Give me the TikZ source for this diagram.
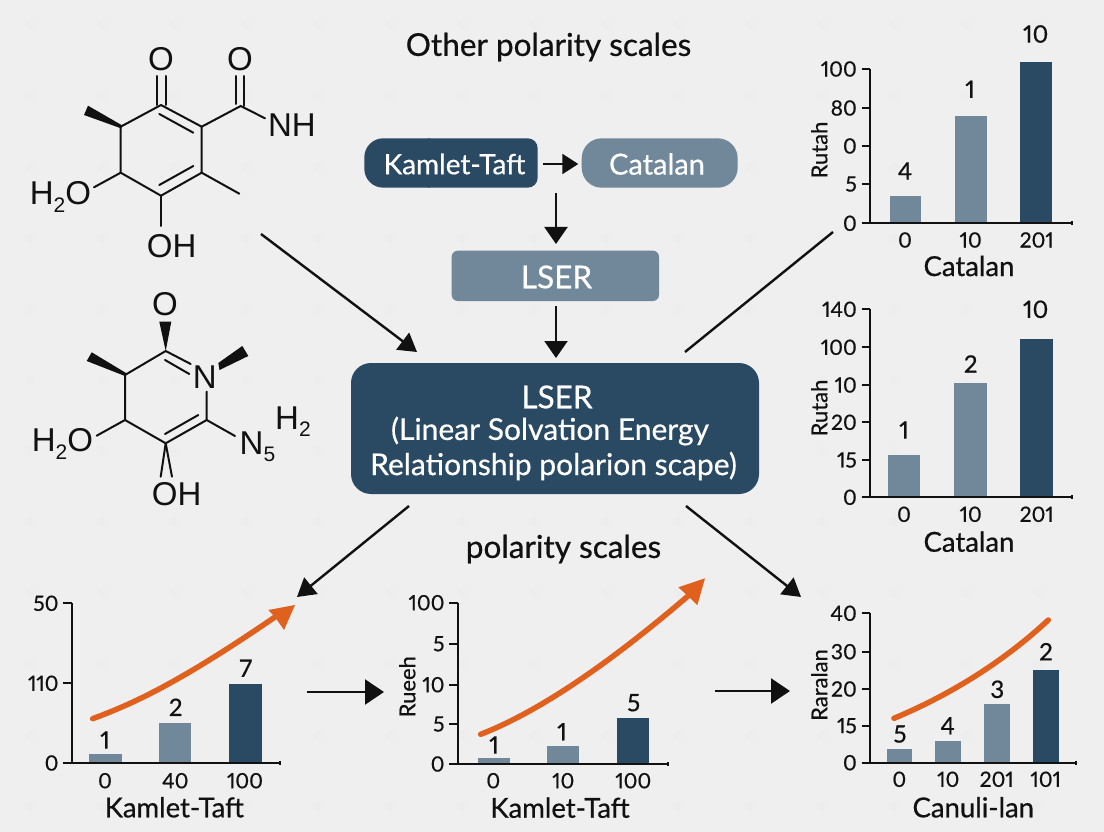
\documentclass[tikz,border=0pt]{standalone}
\usepackage{fontspec}
\setmainfont{Lato}[Numbers=Proportional,RawFeature={embolden=0.6}]
\newfontfamily\molfont{Liberation Sans}
\usetikzlibrary{arrows.meta}
\definecolor{bgc}{HTML}{EFEFEF}
\definecolor{speck}{HTML}{EDEDED}
\definecolor{darkb}{HTML}{2A4A64}
\definecolor{midb}{HTML}{70889A}
\definecolor{orangec}{HTML}{E0601E}
\definecolor{ink}{HTML}{111111}
\newcommand\fs[1]{\fontsize{#1}{#1}\selectfont}
\newcommand\sbs[1]{\raisebox{-0.22em}{\fontsize{21}{21}\selectfont #1}}
\tikzset{
 x=1pt,y=-1pt,
 bond/.style={line width=2pt,draw=ink,line cap=round},
 wedge/.style={fill=ink,draw=none},
 atom/.style={font=\molfont\fs{33},text=ink,inner sep=0pt},
 flow/.style={line width=2.4pt,draw=ink,-{Triangle[length=18pt,width=21pt]}},
 flowplain/.style={line width=2.4pt,draw=ink},
 axisl/.style={line width=1.7pt,draw=ink},
 tick/.style={font=\fs{21},text=ink,inner sep=0pt},
 vallab/.style={font=\fs{24},text=ink,inner sep=0pt},
 xtitle/.style={font=\fs{27.5},text=ink,inner sep=0pt},
 ytitle/.style={font=\fs{22},text=ink,inner sep=0pt,rotate=90},
 headline/.style={font=\fs{31.5},text=ink,inner sep=0pt},
 boxtext/.style={font=\fs{28},text=white,inner sep=0pt,align=center},
 trend/.style={line width=5.5pt,draw=orangec,line cap=round},
}
\newcommand\chartaxes[6]{%
 \draw[axisl] (#2,#3) -- (#2,#4);
 \draw[axisl] (#5,#4) -- (#6,#4);
 \draw[axisl] (#6,#4-2) -- (#6,#4+2);
}
\newcommand\charticks[3]{%
 \foreach \yy/\lab [count=\i] in {#3} {
  \draw[axisl] (#2-8.3,\yy) -- (#2,\yy);
  \node[tick,anchor=east] (#1y\i) at (#2-13,\yy) {\lab};
 }}
\newcommand\chartbars[3]{%
 \foreach \xa/\xb/\tp/\col/\val/\vx/\vy/\xl/\xlx/\xly [count=\i] in {#3} {
  \fill[\col] (\xa,\tp) rectangle (\xb,#2);
  \node[vallab] (#1v\i) at (\vx,\vy) {\val};
  \node[tick] (#1x\i) at (\xlx,\xly) {\xl};
 }}
\begin{document}
\begin{tikzpicture}
\useasboundingbox (0,0) rectangle (1104,832);
\fill[bgc] (0,0) rectangle (1104,832);
\foreach \sx in {30,102,...,1100} \foreach \sy in {25,96,...,830}
  \fill[speck] (\sx,\sy) circle (5);

% ---------- molecule 1
\coordinate (a1) at (161,105);
\coordinate (a2) at (201.7,126.7);
\coordinate (a3) at (201.7,172.7);
\coordinate (a4) at (161,195.7);
\coordinate (a5) at (120.7,172.7);
\coordinate (a6) at (120.7,126.7);
\draw[bond,line join=round] (a1) -- (a2) -- (a3) -- (a4) -- (a5) -- (a6) -- cycle;
\draw[bond] (159.3,114) -- (193.3,132.7);
\draw[bond] (159.3,185) -- (193.3,166);
\draw[bond] (156.7,105) -- (156.7,76);
\draw[bond] (165.7,105) -- (165.7,76);
\draw[bond] (a2) -- (240.7,106) -- (265,118.3);
\draw[bond] (235.7,104) -- (235.7,76);
\draw[bond] (244.3,106) -- (244.3,76);
\draw[bond] (a3) -- (239.3,193.7);
\draw[bond] (a4) -- (161,226);
\draw[bond] (a5) -- (94,187.3);
\fill[wedge] (121.5,128.5) -- (84,115) -- (88,105.7) -- (121.5,125) -- cycle;
\node[atom] (o1) at (161,59.5) {O};
\node[atom] (o2) at (240,59.5) {O};
\node[atom] (nh) at (292,125) {NH};
\node[atom] (oh1) at (171.7,246) {OH};
\node[atom] (h2o1) at (60.5,197) {H\sbs{2}O};

% ---------- molecule 2
\coordinate (b1) at (165.7,351);
\coordinate (b2) at (206.7,420);
\coordinate (b3) at (165.7,443.3);
\coordinate (b4) at (125,420);
\coordinate (b5) at (125,375);
\draw[bond,line join=round] (190.7,364) -- (b1) -- (b5) -- (b4) -- (b3) -- (b2) -- (206.7,391.7);
\draw[bond] (165,360) -- (189.3,374);
\draw[bond] (198.3,415) -- (165,434);
\draw[bond] (b2) -- (235,436);
\draw[bond] (b4) -- (96.7,435.7);
\draw[bond] (b3) -- (160.7,476.7);
\draw[bond] (b3) -- (172,476.7);
\fill[wedge] (165.7,351) -- (159.3,321.7) -- (171.3,321.7) -- cycle;
\fill[wedge] (125,376) -- (86.7,361) -- (91.7,352.3) -- (126,373) -- cycle;
\fill[wedge] (218.3,363) -- (242.3,346) -- (248.3,356) -- (219.5,370) -- cycle;
\node[atom] (o3) at (165,304.5) {O};
\node[atom] (n1) at (204.7,377) {N};
\node[atom,anchor=west] (n5) at (239.5,447) {N\sbs{5}};
\node[atom] (h2) at (293,422) {H\sbs{2}};
\node[atom] (oh2) at (176.7,494) {OH};
\node[atom] (h2o2) at (62.5,444) {H\sbs{2}O};

% ---------- headings
\node[headline] (t1) at (548.5,47) {Other polarity scales};
\node[headline] (t2) at (563.5,549) {polarity scales};

% ---------- boxes
\fill[darkb,rounded corners=19pt] (430,138.3) -- (364.3,138.3) -- (364.3,187.7) -- (430,187.7);
\fill[darkb,rounded corners=10pt] (420,138.3) -- (537.7,138.3) -- (537.7,187.7) -- (420,187.7) -- cycle;
\node[boxtext] (kt) at (454.5,164) {Kamlet-Taft};
\fill[midb,rounded corners=20pt] (581.7,138.3) rectangle (737.7,187.7);
\node[boxtext,font=\fs{29}] (cat) at (657,164) {Catalan};
\fill[midb,rounded corners=6pt] (451.7,250.7) rectangle (659,301);
\node[boxtext,font=\fs{31.5}] (ls) at (556.5,277) {LSER};
\fill[darkb,rounded corners=20pt] (351,363) rectangle (759,494);
\node[boxtext,font=\fs{31.5}] (m1) at (557,397) {LSER};
\node[boxtext,font=\fs{30}] (m2) at (550,431) {(Linear Solvation Energy};
\node[boxtext,font=\fs{30}] (m3) at (553.5,466) {Relationship polarion scape)};

% ---------- connectors
\coordinate (p1) at (542.7,164); \coordinate (p2) at (578.3,164);
\draw[line width=2.2pt,draw=ink,-{Triangle[length=16pt,width=20pt]}] (p1) -- (p2);
\coordinate (p3) at (556,193.3); \coordinate (p4) at (556,244);
\draw[line width=2.2pt,draw=ink,-{Triangle[length=17pt,width=23pt]}] (p3) -- (p4);
\coordinate (p5) at (556,306); \coordinate (p6) at (556,358);
\draw[line width=2.2pt,draw=ink,-{Triangle[length=17pt,width=23pt]}] (p5) -- (p6);
\coordinate (q1) at (261,234); \coordinate (q2) at (417,352);
\draw[flow] (q1) -- (q2);
\coordinate (q3) at (833,232); \coordinate (q4) at (685,352);
\draw[flowplain] (q3) -- (q4);
\coordinate (q5) at (409,506); \coordinate (q6) at (297,597);
\draw[flow] (q5) -- (q6);
\coordinate (q7) at (686,506); \coordinate (q8) at (801,597);
\draw[flow] (q7) -- (q8);
\coordinate (q9) at (307,692); \coordinate (q10) at (384,692);
\draw[line width=2.4pt,draw=ink,-{Triangle[length=19pt,width=25pt]}] (q9) -- (q10);
\coordinate (q11) at (715,691); \coordinate (q12) at (790,691);
\draw[line width=2.4pt,draw=ink,-{Triangle[length=19pt,width=25pt]}] (q11) -- (q12);

% ---------- chart top right
\chartbars{ca}{223.3}{890/921.3/196/midb/4/905/171/0/905/240,954.7/987/116/midb/1/970/89.3/10/970.7/240,1020.3/1052.3/62/darkb/10/1035.7/34/201/1036.7/240}
\chartaxes{ca}{870}{69}{223.3}{861.7}{1071.7}
\charticks{ca}{870}{69/100,108/80,146/0,184/5,223.3/0}
\node[xtitle] (cax) at (969,266) {Catalan};
\node[ytitle] (cay) at (819.3,150) {Rutah};

% ---------- chart middle right
\chartbars{cb}{497.3}{888.3/920/455/midb/1/904/430/0/904/514.3,954/986.7/383.3/midb/2/970.7/364/10/970.7/514.3,1020/1053/339.3/darkb/10/1035.7/309.3/201/1036.7/514.3}
\chartaxes{cb}{870}{309.3}{497.3}{861.7}{1071.7}
\charticks{cb}{870}{309.3/140,347.3/100,385/10,422.3/20,460/15,497.3/0}
\node[xtitle] (cbx) at (969,541.7) {Catalan};
\node[ytitle] (cby) at (819.3,408) {Rutah};

% ---------- chart bottom left
\chartbars{cc}{763}{89.3/121.7/753.7/midb/1/105/740/0/105/780.7,159/191.3/723.3/midb/2/175.7/707.3/40/175.3/780.7,228.7/261.7/683.7/darkb/7/245.7/668.3/100/245/780.7}
\chartaxes{cc}{71.7}{603.3}{763}{63.3}{280}
\charticks{cc}{71.7}{603.3/50,683.3/110,763/0}
\node[xtitle] (ccx) at (174.3,807.3) {Kamlet-Taft};
\coordinate (r1) at (92.7,718.7); \coordinate (r2) at (295,605);
\draw[trend] (r1) .. controls (135,703) and (180,682) .. (275,617);
\fill[orangec] (r2) -- (268.3,610) -- (275,617) -- (284,630) -- cycle;

% ---------- chart bottom middle
\chartbars{cd}{764}{477.7/509.7/758.3/midb/1/494/745/0/493.3/780.7,547/579/746.3/midb/1/562/731.7/10/563.3/780.7,617.3/649.3/718.3/darkb/5/633.7/702.7/100/633.3/780.7}
\chartaxes{cd}{457.7}{602.7}{764}{450}{668.3}
\charticks{cd}{457.7}{602.7/100,643.7/5,684.7/10,724/5,764/0}
\node[xtitle] (cdx) at (560,807.7) {Kamlet-Taft};
\node[ytitle] (cdy) at (407.3,686.7) {Rueeh};
\coordinate (s1) at (480.7,734.3); \coordinate (s2) at (705,578.3);
\draw[trend] (s1) .. controls (525,717) and (590,680) .. (688,596);
\fill[orangec] (s2) -- (678.3,587.3) -- (688,596) -- (697.3,605.3) -- cycle;

% ---------- chart bottom right
\chartbars{ce}{762.7}{887/912.3/749.3/midb/5/900/734/0/899.3/779.3,935/961.3/741.3/midb/4/947.7/725.7/10/948.3/779.3,983.7/1010/703.7/midb/3/997.3/689.3/201/996.7/779.3,1032.7/1059/670/darkb/2/1046/651.7/101/1045.7/779.3}
\chartaxes{ce}{870}{613.3}{762.7}{861.7}{1075.7}
\charticks{ce}{870}{613.3/40,651.7/30,689/20,725.7/15,762.7/0}
\node[xtitle] (cex) at (973.3,807.3) {Canuli-lan};
\node[ytitle] (cey) at (819.3,685) {Raralan};
\coordinate (u1) at (894,718.3); \coordinate (u2) at (1048.3,620);
\draw[trend] (u1) .. controls (945,697) and (1000,665) .. (u2);
\end{tikzpicture}
\end{document}
